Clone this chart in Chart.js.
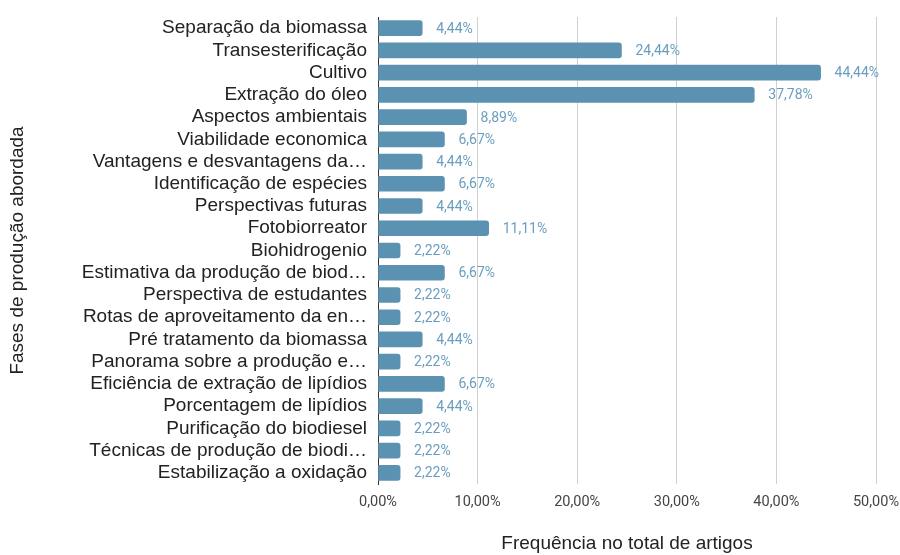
<!DOCTYPE html>
<html>
<head>
<meta charset="utf-8">
<script src="https://cdn.jsdelivr.net/npm/chart.js@4.4.0/dist/chart.umd.min.js"></script>
<style>
  html, body { margin: 0; padding: 0; background: #fff; }
  #wrap { width: 900px; height: 555px; }
</style>
</head>
<body>
<div id="wrap"><canvas id="myChart"></canvas></div>
<script>
const categories = [
  "Separação da biomassa",
  "Transesterificação",
  "Cultivo",
  "Extração do óleo",
  "Aspectos ambientais",
  "Viabilidade economica",
  "Vantagens e desvantagens da…",
  "Identificação de espécies",
  "Perspectivas futuras",
  "Fotobiorreator",
  "Biohidrogenio",
  "Estimativa da produção de biod…",
  "Perspectiva de estudantes",
  "Rotas de aproveitamento da en…",
  "Pré tratamento da biomassa",
  "Panorama sobre a produção e…",
  "Eficiência de extração de lipídios",
  "Porcentagem de lipídios",
  "Purificação do biodiesel",
  "Técnicas de produção de biodi…",
  "Estabilização a oxidação"
];
const frequencies = [4.44, 24.44, 44.44, 37.78, 8.89, 6.67, 4.44, 6.67, 4.44, 11.11, 2.22, 6.67, 2.22, 2.22, 4.44, 2.22, 6.67, 4.44, 2.22, 2.22, 2.22];
const xTicks = [0, 10, 20, 30, 40, 50];

function pct(v) {
  return v.toFixed(2).replace('.', ',') + '%';
}

// labels at the end of each bar
const valueLabels = {
  id: 'valueLabels',
  afterDatasetsDraw(chart) {
    const ctx = chart.ctx;
    const meta = chart.getDatasetMeta(0);
    ctx.save();
    ctx.font = '14px Roboto';
    ctx.fillStyle = '#6a9ec0';
    ctx.textBaseline = 'middle';
    ctx.textAlign = 'left';
    meta.data.forEach((bar, i) => {
      ctx.fillText(pct(frequencies[i]), bar.x + 14, bar.y + 1);
    });
    ctx.restore();
  }
};

var ctx = document.getElementById("myChart");
var myChart = new Chart(ctx, {
  type: 'bar',
  data: {
    labels: categories,
    datasets: [{
      label: "Frequência no total de artigos",
      backgroundColor: "#5b92b1",
      borderRadius: 3,
      borderSkipped: 'start',
      barThickness: 15,
      data: frequencies
    }]
  },
  options: {
    indexAxis: 'y',
    responsive: true,
    maintainAspectRatio: false,
    animation: false,
    layout: { padding: { top: 17, right: 24, left: 0, bottom: 0 } },
    plugins: {
      legend: { display: false },
      tooltip: { enabled: false }
    },
    scales: {
      x: {
        min: 0,
        max: 50,
        afterBuildTicks: (scale) => { scale.ticks = xTicks.map(v => ({ value: v })); },
        afterFit: (scale) => {
          scale.height = 71;
          scale.paddingLeft = 0;
          scale.paddingRight = 0;
        },
        grid: { color: '#d0d0d0', drawTicks: false },
        border: { display: false },
        ticks: {
          padding: 10,
          color: '#444',
          maxRotation: 0,
          font: { family: 'Roboto', size: 14.5 },
          callback: (v) => pct(v)
        },
        title: {
          display: true,
          text: 'Frequência no total de artigos',
          color: '#222',
          font: { family: 'Liberation Sans', size: 19 },
          padding: { top: 2, bottom: 0 }
        }
      },
      y: {
        afterFit: (scale) => {
          scale.width = 378;
          scale.paddingTop = 0;
          scale.paddingBottom = 0;
        },
        grid: { display: false, drawTicks: false },
        border: { display: true, color: '#333', width: 1 },
        ticks: {
          padding: 11,
          color: '#222',
          autoSkip: false,
          font: { family: 'Liberation Sans', size: 19 }
        },
        title: {
          display: true,
          text: 'Fases de produção abordada',
          color: '#222',
          font: { family: 'Liberation Sans', size: 19 },
          padding: { top: 6, bottom: 0 }
        }
      }
    }
  },
  plugins: [valueLabels]
});
</script>
</body>
</html>
